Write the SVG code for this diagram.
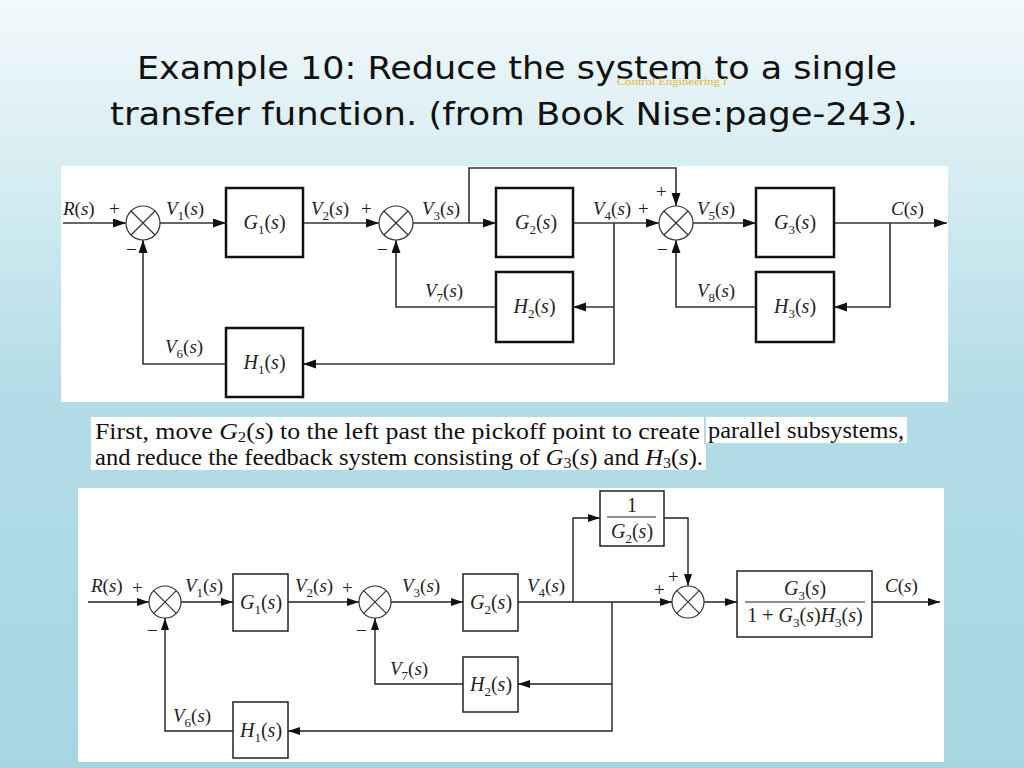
<svg xmlns="http://www.w3.org/2000/svg" width="1024" height="768" viewBox="0 0 1024 768">
<defs>
<linearGradient id="bg" x1="0" y1="0" x2="0" y2="1">
<stop offset="0" stop-color="#f2f9fb"/>
<stop offset="0.5" stop-color="#b4dde7"/>
<stop offset="1" stop-color="#a6d6e2"/>
</linearGradient>
<marker id="ah" markerUnits="userSpaceOnUse" markerWidth="14" markerHeight="10" refX="13" refY="4.5" orient="auto">
<path d="M0,0 L13,4.5 L0,9 z" fill="#111"/>
</marker>
<marker id="ah2" markerUnits="userSpaceOnUse" markerWidth="13" markerHeight="9" refX="12" refY="4" orient="auto">
<path d="M0,0 L12,4 L0,8 z" fill="#111"/>
</marker>
</defs>
<style>
.title{font-family:"DejaVu Sans","Open Sans",sans-serif;font-size:32px;fill:#111}
.wm{font-family:"Liberation Serif",serif;font-size:11px;fill:#e2b43e}
.lbl{font-family:"Liberation Serif","DejaVu Serif",serif;font-size:19px;fill:#222}
.blbl{font-family:"Liberation Serif","DejaVu Serif",serif;font-size:20px;fill:#222}
.para{font-family:"Liberation Serif","DejaVu Serif",serif;font-size:23px;fill:#111}
.it{font-style:italic}
.sub{font-size:13px}
.psub{font-size:15px}
.box{fill:none;stroke:#111;stroke-width:2.5}
.box2{fill:none;stroke:#222;stroke-width:1.5}
.sum{fill:none;stroke:#333;stroke-width:1.2}
.ln{fill:none;stroke:#333;stroke-width:1.6;marker-end:url(#ah)}
.bl{fill:none;stroke:#222;stroke-width:1.4;marker-end:url(#ah2)}
</style>
<rect width="1024" height="768" fill="url(#bg)"/>

<g id="title">
<text class="title" x="137" y="79" textLength="760" lengthAdjust="spacingAndGlyphs">Example 10: Reduce the system to a single</text>
<text class="title" x="110" y="125" textLength="808" lengthAdjust="spacingAndGlyphs">transfer function. (from Book Nise:page-243).</text>
<text class="wm" x="617" y="85" textLength="110" lengthAdjust="spacingAndGlyphs">Control Engineering I</text>
</g>

<!-- Top diagram -->
<rect x="61" y="166" width="887" height="236" fill="#fff"/>
<g id="top-connectors">
<path class="ln" d="M63,223 H126"/>
<path class="ln" d="M160,223 H226"/>
<path class="ln" d="M303,223 H379"/>
<path class="ln" d="M413,223 H496"/>
<path class="ln" d="M469,223 V168 H676 V206"/>
<path class="ln" d="M573,223 H659"/>
<path class="ln" d="M614,223 V364 H303"/>
<path class="ln" d="M614,307 H573"/>
<path class="ln" d="M496,307 H396 V240"/>
<path class="ln" d="M226,364 H143 V240"/>
<path class="ln" d="M693,223 H756"/>
<path class="ln" d="M834,223 H947"/>
<path class="ln" d="M890,223 V307 H834"/>
<path class="ln" d="M756,307 H676 V240"/>
</g>
<g id="t-sum1"><circle class="sum" cx="143" cy="223" r="17"/><path class="sum" d="M131,211 L155,235 M155,211 L131,235"/></g>
<g id="t-sum2"><circle class="sum" cx="396" cy="223" r="17"/><path class="sum" d="M384,211 L408,235 M408,211 L384,235"/></g>
<g id="t-sum3"><circle class="sum" cx="676" cy="223" r="17"/><path class="sum" d="M664,211 L688,235 M688,211 L664,235"/></g>
<g id="t-G1"><rect class="box" x="226" y="188" width="77" height="69"/><text class="blbl" x="264.5" y="229" text-anchor="middle"><tspan class="it">G</tspan><tspan class="sub" dy="5">1</tspan><tspan dy="-5">(</tspan><tspan class="it">s</tspan>)</text></g>
<g id="t-G2"><rect class="box" x="496" y="188" width="77" height="69"/><text class="blbl" x="536" y="229" text-anchor="middle"><tspan class="it">G</tspan><tspan class="sub" dy="5">2</tspan><tspan dy="-5">(</tspan><tspan class="it">s</tspan>)</text></g>
<g id="t-G3"><rect class="box" x="756" y="188" width="78" height="69"/><text class="blbl" x="795" y="229" text-anchor="middle"><tspan class="it">G</tspan><tspan class="sub" dy="5">3</tspan><tspan dy="-5">(</tspan><tspan class="it">s</tspan>)</text></g>
<g id="t-H1"><rect class="box" x="226" y="328" width="77" height="69"/><text class="blbl" x="264.5" y="369" text-anchor="middle"><tspan class="it">H</tspan><tspan class="sub" dy="5">1</tspan><tspan dy="-5">(</tspan><tspan class="it">s</tspan>)</text></g>
<g id="t-H2"><rect class="box" x="496" y="272" width="77" height="70"/><text class="blbl" x="534.5" y="313" text-anchor="middle"><tspan class="it">H</tspan><tspan class="sub" dy="5">2</tspan><tspan dy="-5">(</tspan><tspan class="it">s</tspan>)</text></g>
<g id="t-H3"><rect class="box" x="756" y="272" width="78" height="70"/><text class="blbl" x="795" y="313" text-anchor="middle"><tspan class="it">H</tspan><tspan class="sub" dy="5">3</tspan><tspan dy="-5">(</tspan><tspan class="it">s</tspan>)</text></g>
<g id="top-labels">
<text class="lbl" x="63" y="215"><tspan class="it">R</tspan>(<tspan class="it">s</tspan>)</text>
<text class="lbl" x="109" y="215">+</text>
<text class="lbl" x="126" y="256">−</text>
<text class="lbl" x="166" y="215"><tspan class="it">V</tspan><tspan class="sub" dy="5">1</tspan><tspan dy="-5">(</tspan><tspan class="it">s</tspan>)</text>
<text class="lbl" x="311" y="215"><tspan class="it">V</tspan><tspan class="sub" dy="5">2</tspan><tspan dy="-5">(</tspan><tspan class="it">s</tspan>)</text>
<text class="lbl" x="361" y="215">+</text>
<text class="lbl" x="377" y="256">−</text>
<text class="lbl" x="422" y="215"><tspan class="it">V</tspan><tspan class="sub" dy="5">3</tspan><tspan dy="-5">(</tspan><tspan class="it">s</tspan>)</text>
<text class="lbl" x="593" y="215"><tspan class="it">V</tspan><tspan class="sub" dy="5">4</tspan><tspan dy="-5">(</tspan><tspan class="it">s</tspan>)</text>
<text class="lbl" x="638" y="215">+</text>
<text class="lbl" x="656" y="198">+</text>
<text class="lbl" x="657" y="256">−</text>
<text class="lbl" x="697" y="215"><tspan class="it">V</tspan><tspan class="sub" dy="5">5</tspan><tspan dy="-5">(</tspan><tspan class="it">s</tspan>)</text>
<text class="lbl" x="891" y="215"><tspan class="it">C</tspan>(<tspan class="it">s</tspan>)</text>
<text class="lbl" x="165" y="353"><tspan class="it">V</tspan><tspan class="sub" dy="5">6</tspan><tspan dy="-5">(</tspan><tspan class="it">s</tspan>)</text>
<text class="lbl" x="425" y="297"><tspan class="it">V</tspan><tspan class="sub" dy="5">7</tspan><tspan dy="-5">(</tspan><tspan class="it">s</tspan>)</text>
<text class="lbl" x="697" y="297"><tspan class="it">V</tspan><tspan class="sub" dy="5">8</tspan><tspan dy="-5">(</tspan><tspan class="it">s</tspan>)</text>
</g>

<!-- Middle paragraph -->
<g id="paragraph">
<rect x="91" y="417" width="613" height="27" fill="#fff"/>
<rect x="706" y="417" width="201" height="26" fill="#fff"/>
<rect x="91" y="444" width="615" height="26" fill="#fff"/>
<text class="para" x="95" y="439" textLength="605" lengthAdjust="spacingAndGlyphs">First, move <tspan class="it">G</tspan><tspan class="psub" dy="3">2</tspan><tspan dy="-3">(</tspan><tspan class="it">s</tspan>) to the left past the pickoff point to create</text>
<text class="para" x="708" y="438" textLength="196" lengthAdjust="spacingAndGlyphs">parallel subsystems,</text>
<text class="para" x="95" y="465" textLength="608" lengthAdjust="spacingAndGlyphs">and reduce the feedback system consisting of <tspan class="it">G</tspan><tspan class="psub" dy="3">3</tspan><tspan dy="-3">(</tspan><tspan class="it">s</tspan>) and <tspan class="it">H</tspan><tspan class="psub" dy="3">3</tspan><tspan dy="-3">(</tspan><tspan class="it">s</tspan>).</text>
</g>

<!-- Bottom diagram -->
<rect x="78" y="488" width="866" height="274" fill="#fff"/>
<g id="bottom-connectors">
<path class="bl" d="M88,602 H149"/>
<path class="bl" d="M181,602 H233"/>
<path class="bl" d="M288,602 H359"/>
<path class="bl" d="M391,602 H463"/>
<path class="bl" d="M518,602 H672"/>
<path class="bl" d="M573,602 V518 H600"/>
<path class="bl" d="M664,518 H688 V586"/>
<path class="bl" d="M612,602 V731 H288"/>
<path class="bl" d="M612,684 H518"/>
<path class="bl" d="M463,684 H375 V618"/>
<path class="bl" d="M233,731 H165 V618"/>
<path class="bl" d="M704,602 H737"/>
<path class="bl" d="M872,602 H940"/>
</g>
<g id="b-sum1"><circle class="sum" cx="165" cy="602" r="16"/><path class="sum" d="M153.7,590.7 L176.3,613.3 M176.3,590.7 L153.7,613.3"/></g>
<g id="b-sum2"><circle class="sum" cx="375" cy="602" r="16"/><path class="sum" d="M363.7,590.7 L386.3,613.3 M386.3,590.7 L363.7,613.3"/></g>
<g id="b-sum3"><circle class="sum" cx="688" cy="602" r="16"/><path class="sum" d="M676.7,590.7 L699.3,613.3 M699.3,590.7 L676.7,613.3"/></g>
<g id="b-G1"><rect class="box2" x="233" y="574" width="55" height="57"/><text class="blbl" x="261" y="609" text-anchor="middle"><tspan class="it">G</tspan><tspan class="sub" dy="5">1</tspan><tspan dy="-5">(</tspan><tspan class="it">s</tspan>)</text></g>
<g id="b-G2"><rect class="box2" x="463" y="574" width="55" height="57"/><text class="blbl" x="491" y="609" text-anchor="middle"><tspan class="it">G</tspan><tspan class="sub" dy="5">2</tspan><tspan dy="-5">(</tspan><tspan class="it">s</tspan>)</text></g>
<g id="b-H1"><rect class="box2" x="233" y="702" width="55" height="56"/><text class="blbl" x="261" y="737" text-anchor="middle"><tspan class="it">H</tspan><tspan class="sub" dy="5">1</tspan><tspan dy="-5">(</tspan><tspan class="it">s</tspan>)</text></g>
<g id="b-H2"><rect class="box2" x="463" y="657" width="55" height="55"/><text class="blbl" x="491" y="691" text-anchor="middle"><tspan class="it">H</tspan><tspan class="sub" dy="5">2</tspan><tspan dy="-5">(</tspan><tspan class="it">s</tspan>)</text></g>
<g id="b-invG2"><rect class="box2" x="600" y="491" width="64" height="55"/>
<text class="blbl" x="632" y="512" text-anchor="middle">1</text>
<line x1="607" y1="517" x2="656" y2="517" stroke="#222" stroke-width="1.2"/>
<text class="blbl" x="632" y="538" text-anchor="middle"><tspan class="it">G</tspan><tspan class="sub" dy="5">2</tspan><tspan dy="-5">(</tspan><tspan class="it">s</tspan>)</text></g>
<g id="b-closed"><rect class="box2" x="737" y="571" width="135" height="66"/>
<text class="blbl" x="805" y="595" text-anchor="middle"><tspan class="it">G</tspan><tspan class="sub" dy="5">3</tspan><tspan dy="-5">(</tspan><tspan class="it">s</tspan>)</text>
<line x1="745" y1="602" x2="865" y2="602" stroke="#222" stroke-width="1.2"/>
<text class="blbl" x="805" y="622" text-anchor="middle">1 + <tspan class="it">G</tspan><tspan class="sub" dy="5">3</tspan><tspan dy="-5">(</tspan><tspan class="it">s</tspan>)<tspan class="it">H</tspan><tspan class="sub" dy="5">3</tspan><tspan dy="-5">(</tspan><tspan class="it">s</tspan>)</text></g>
<g id="bottom-labels">
<text class="lbl" x="91" y="592"><tspan class="it">R</tspan>(<tspan class="it">s</tspan>)</text>
<text class="lbl" x="132" y="594">+</text>
<text class="lbl" x="147" y="637">−</text>
<text class="lbl" x="185" y="592"><tspan class="it">V</tspan><tspan class="sub" dy="5">1</tspan><tspan dy="-5">(</tspan><tspan class="it">s</tspan>)</text>
<text class="lbl" x="295" y="592"><tspan class="it">V</tspan><tspan class="sub" dy="5">2</tspan><tspan dy="-5">(</tspan><tspan class="it">s</tspan>)</text>
<text class="lbl" x="342" y="594">+</text>
<text class="lbl" x="356" y="637">−</text>
<text class="lbl" x="402" y="592"><tspan class="it">V</tspan><tspan class="sub" dy="5">3</tspan><tspan dy="-5">(</tspan><tspan class="it">s</tspan>)</text>
<text class="lbl" x="527" y="592"><tspan class="it">V</tspan><tspan class="sub" dy="5">4</tspan><tspan dy="-5">(</tspan><tspan class="it">s</tspan>)</text>
<text class="lbl" x="654" y="596">+</text>
<text class="lbl" x="668" y="583">+</text>
<text class="lbl" x="885" y="592"><tspan class="it">C</tspan>(<tspan class="it">s</tspan>)</text>
<text class="lbl" x="173" y="722"><tspan class="it">V</tspan><tspan class="sub" dy="5">6</tspan><tspan dy="-5">(</tspan><tspan class="it">s</tspan>)</text>
<text class="lbl" x="390" y="675"><tspan class="it">V</tspan><tspan class="sub" dy="5">7</tspan><tspan dy="-5">(</tspan><tspan class="it">s</tspan>)</text>
</g>
</svg>
